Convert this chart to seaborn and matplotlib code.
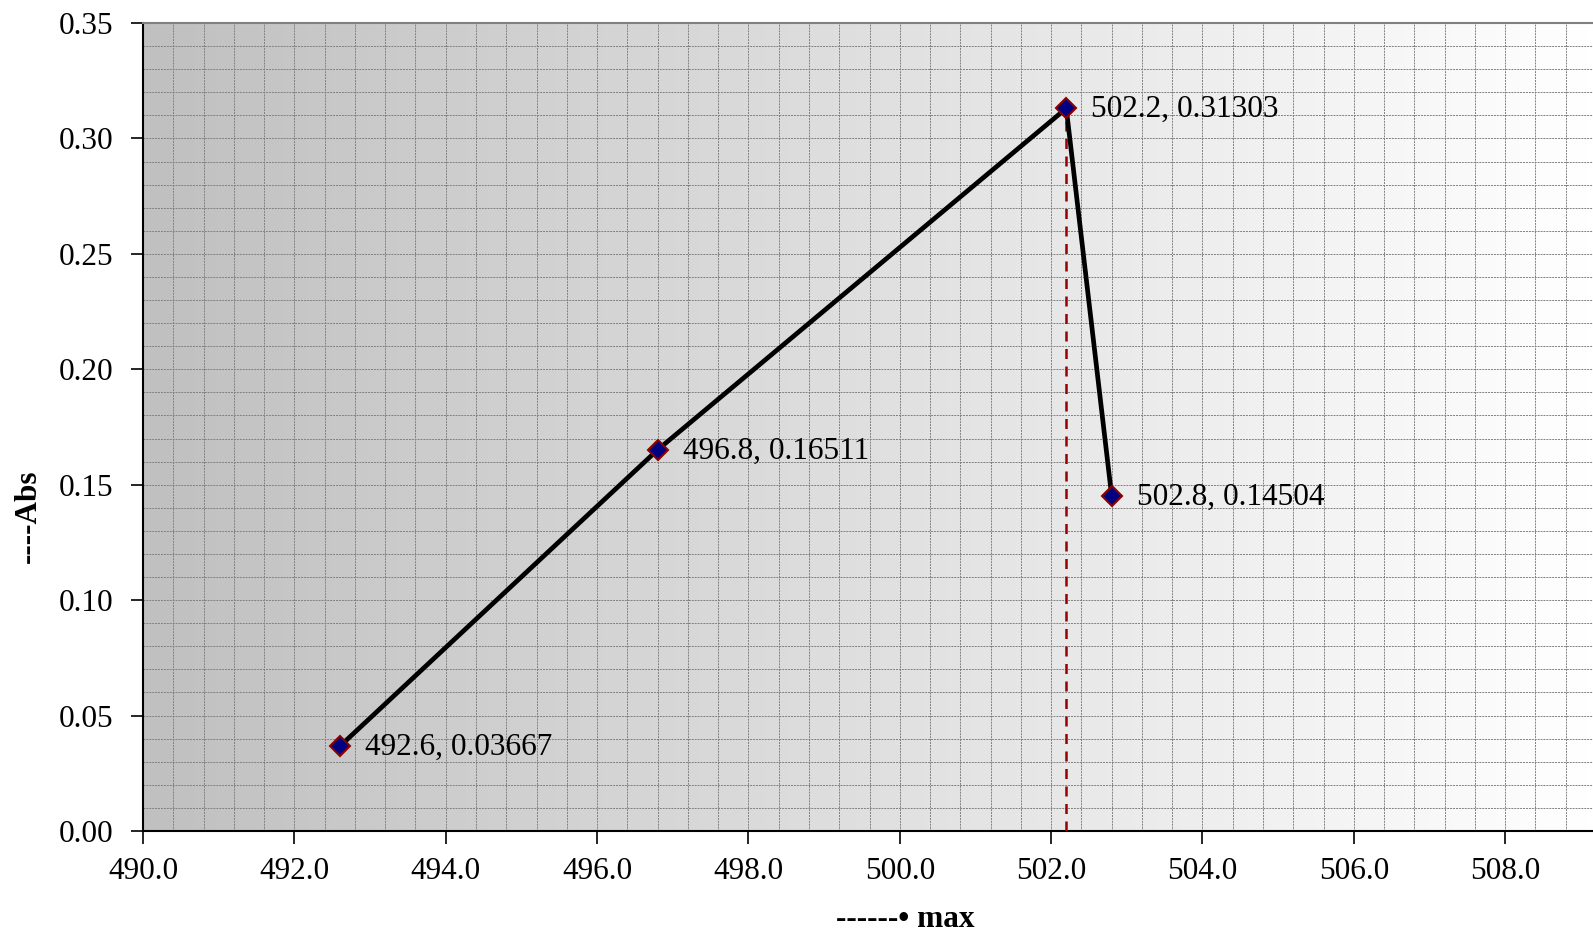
import matplotlib
matplotlib.use("Agg")
import matplotlib.pyplot as plt
from matplotlib.colors import LinearSegmentedColormap
from matplotlib.ticker import MultipleLocator, FormatStrFormatter
import numpy as np
import pandas as pd
import seaborn as sns

# data
wavelength = [492.6, 496.8, 502.2, 502.8]
absorbance = [0.03667, 0.16511, 0.31303, 0.14504]
point_labels = ["492.6, 0.03667", "496.8, 0.16511", "502.2, 0.31303", "502.8, 0.14504"]
lambda_max = 502.2
abs_max = 0.31303

x_label = "------\u2022 max"
y_label = "----Abs"

sns.set_style("white")
plt.rcParams["font.family"] = ["Liberation Serif", "DejaVu Serif"]
plt.rcParams["text.color"] = "black"
plt.rcParams["axes.labelcolor"] = "black"
plt.rcParams["xtick.color"] = "black"
plt.rcParams["ytick.color"] = "black"

fig = plt.figure(figsize=(15.93, 9.36), dpi=100)
ax = fig.add_axes([143 / 1593, 1 - 831 / 936, 1 - 143 / 1593, (831 - 23) / 936])

# grey-to-white background
grad = np.linspace(0, 1, 256).reshape(1, -1)
cmap = LinearSegmentedColormap.from_list("bg", ["#c0c0c0", "#ffffff"])
ax.imshow(grad, extent=[0, 1, 0, 1], transform=ax.transAxes, aspect="auto",
          cmap=cmap, zorder=0)

df = pd.DataFrame({"wl": wavelength, "abs": absorbance})
sns.lineplot(data=df, x="wl", y="abs", ax=ax, color="black", lw=3.4, sort=False,
             marker="D", markersize=10, markerfacecolor="#000080",
             markeredgecolor="#8b0000", markeredgewidth=1.5, zorder=4)

ax.plot([lambda_max, lambda_max], [0, abs_max], color="#990000", lw=1.8,
        ls=(0, (4, 3)), zorder=3)

for xv, yv, lab in zip(wavelength, absorbance, point_labels):
    ax.annotate(lab, (xv, yv), xytext=(18, -1), textcoords="offset points",
                fontsize=22.5, va="center", ha="left", color="black", zorder=5)

ax.set_xlim(490, 509.16)
ax.set_ylim(0, 0.35)
ax.xaxis.set_major_locator(MultipleLocator(2))
ax.xaxis.set_minor_locator(MultipleLocator(0.4))
ax.yaxis.set_major_locator(MultipleLocator(0.05))
ax.yaxis.set_minor_locator(MultipleLocator(0.01))
ax.xaxis.set_major_formatter(FormatStrFormatter("%.1f"))
ax.yaxis.set_major_formatter(FormatStrFormatter("%.2f"))

ax.grid(which="both", color="#808080", lw=0.7, ls=(0, (2, 1)), zorder=1)
ax.set_axisbelow(True)

ax.tick_params(which="major", direction="out", length=9, width=1.2,
               labelsize=22.5, color="black", left=True, bottom=True)
ax.tick_params(axis="y", pad=12)
ax.tick_params(axis="x", pad=10)
ax.tick_params(which="minor", length=0)

for side in ["left", "bottom"]:
    ax.spines[side].set_color("black")
    ax.spines[side].set_linewidth(1.5)
ax.spines["top"].set_color("#808080")
ax.spines["top"].set_linewidth(1.5)
ax.spines["right"].set_visible(False)

ax.set_xlabel(x_label, fontsize=22.5, fontweight="bold")
ax.set_ylabel(y_label, fontsize=22.5, fontweight="bold")
ax.xaxis.set_label_coords(0.5255, -0.11)
ax.yaxis.set_label_coords(-0.079, 0.39)
ax.xaxis.label.set_va("center")
ax.yaxis.label.set_va("center")

fig.savefig("out.png", dpi=100)
